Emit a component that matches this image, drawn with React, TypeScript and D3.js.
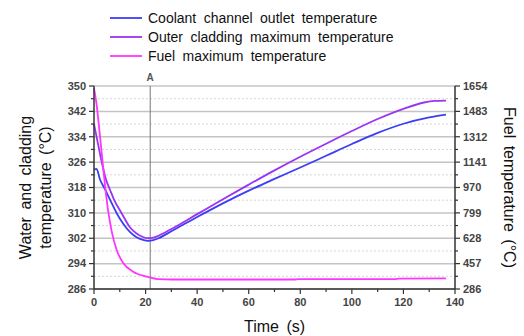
import React from 'react';
import * as d3 from 'd3';

// time (s) and temperatures
const coolantT = [0, 1, 2.3, 4.3, 6.2, 8.8, 11.4, 14, 16.5, 19, 21, 23, 25, 30, 40, 50, 60, 70, 80, 90, 100, 110, 120, 130, 136.5];
const coolantV = [323.6, 323.9, 320.6, 317.4, 314.2, 309.9, 306.5, 303.9, 302.3, 301.5, 301.2, 301.4, 302.0, 304.2, 308.7, 313.0, 317.0, 320.7, 324.3, 328.0, 331.7, 335.2, 338.1, 340.1, 341.0];

const claddingT = [0, 1, 3, 4.7, 6.2, 7.8, 10.7, 14, 16.5, 19, 21, 23, 25, 30, 40, 50, 60, 70, 80, 90, 100, 110, 120, 128, 132, 136.5];
const claddingV = [338.0, 334.0, 326.0, 320.4, 317.3, 314.1, 309.9, 305.4, 303.5, 302.4, 302.0, 302.2, 302.8, 304.9, 309.6, 314.3, 318.9, 323.4, 327.7, 331.8, 335.8, 339.6, 342.8, 344.8, 345.3, 345.4];

const fuelT = [0, 1, 2, 3, 4.3, 5.5, 6.9, 8.8, 11.4, 15.2, 20.4, 25.6, 30, 50, 78, 79, 100, 117, 118, 136.5];
const fuelV = [1640, 1530, 1370, 1200, 980, 810, 671, 549, 459, 403, 370, 352, 350, 350, 350, 352, 353, 353, 356, 357];

const leftTicks = [286, 294, 302, 310, 318, 326, 334, 342, 350];
const rightTicks = [286, 457, 628, 799, 970, 1141, 1312, 1483, 1654];
const xTicks = [0, 20, 40, 60, 80, 100, 120, 140];
const markerT = 21.8;

const series = [
  { name: 'Coolant channel outlet temperature', color: '#3d3df7', t: coolantT, v: coolantV, axis: 'left' },
  { name: 'Outer cladding maximum temperature', color: '#9a33f5', t: claddingT, v: claddingV, axis: 'left' },
  { name: 'Fuel maximum temperature', color: '#ff35ff', t: fuelT, v: fuelV, axis: 'right' },
];

const W = 524;
const H = 336;
const margin = { top: 86, right: 69, bottom: 47, left: 94 };
const font = 'Arial, "Liberation Sans", sans-serif';

export default function App() {
  const x = d3.scaleLinear().domain([0, 140]).range([margin.left, W - margin.right]);
  const yL = d3.scaleLinear().domain([286, 350]).range([H - margin.bottom, margin.top]);
  const yR = d3.scaleLinear().domain([286, 1654]).range([H - margin.bottom, margin.top]);
  const x0 = x(0), x1 = x(140), yb = yL(286), yt = yL(350);

  const minorLeft = d3.range(290, 350, 8);
  const minorX = d3.range(10, 140, 20);
  const minorRight = rightTicks.slice(0, -1).map((d, i) => (d + rightTicks[i + 1]) / 2);

  const paths = series.map((s) => {
    const yy = s.axis === 'left' ? yL : yR;
    const line = d3
      .line<number>()
      .x((_, i) => x(s.t[i]))
      .y((d) => yy(d))
      .curve(d3.curveMonotoneX);
    return line(s.v) as string;
  });

  return (
    <svg width={W} height={H} style={{ position: 'absolute', left: 0, top: 0 }} fontFamily={font}>
      <rect width={W} height={H} fill="#fff" />

      {/* minor dotted grid */}
      {minorLeft.map((d) => (
        <line key={'mg' + d} x1={x0} x2={x1} y1={yL(d)} y2={yL(d)} stroke="#d6d6d6" strokeDasharray="2,2" />
      ))}
      {/* major grid */}
      {leftTicks.map((d) => (
        <line key={'g' + d} x1={x0} x2={x1} y1={yL(d)} y2={yL(d)} stroke="#c4c4c4" strokeWidth={1.5} />
      ))}

      {/* marker A */}
      <line x1={x(markerT)} x2={x(markerT)} y1={yt} y2={yb} stroke="#777" strokeWidth={1} />
      <text x={x(markerT)} y={81} textAnchor="middle" fontSize={10} fontWeight="bold" fill="#555">A</text>

      {/* curves */}
      {series.map((s, i) => (
        <path key={s.name} d={paths[i]} fill="none" stroke={s.color} strokeWidth={1.8} strokeLinejoin="round" />
      ))}

      {/* axes */}
      <line x1={x0} x2={x0} y1={yt} y2={yb} stroke="#333" strokeWidth={1.5} />
      <line x1={x1} x2={x1} y1={yt} y2={yb} stroke="#333" strokeWidth={1.5} />
      <line x1={x0} x2={x1} y1={yb} y2={yb} stroke="#333" strokeWidth={1.5} />

      {leftTicks.map((d) => (
        <g key={'lt' + d}>
          <line x1={x0 - 5} x2={x0} y1={yL(d)} y2={yL(d)} stroke="#333" strokeWidth={1.2} />
          <text x={x0 - 8} y={yL(d)} dy="0.35em" textAnchor="end" fontSize={11} fontWeight="bold" fill="#444">{d}</text>
        </g>
      ))}
      {minorLeft.map((d) => (
        <line key={'lm' + d} x1={x0 - 3} x2={x0} y1={yL(d)} y2={yL(d)} stroke="#333" strokeWidth={1.2} />
      ))}

      {rightTicks.map((d) => (
        <g key={'rt' + d}>
          <line x1={x1} x2={x1 + 5} y1={yR(d)} y2={yR(d)} stroke="#333" strokeWidth={1.2} />
          <text x={x1 + 8} y={yR(d)} dy="0.35em" textAnchor="start" fontSize={11} fontWeight="bold" fill="#444">{d}</text>
        </g>
      ))}
      {minorRight.map((d) => (
        <line key={'rm' + d} x1={x1} x2={x1 + 3} y1={yR(d)} y2={yR(d)} stroke="#333" strokeWidth={1.2} />
      ))}

      {xTicks.map((d) => (
        <g key={'xt' + d}>
          <line x1={x(d)} x2={x(d)} y1={yb} y2={yb + 5} stroke="#333" strokeWidth={1.2} />
          <text x={x(d)} y={yb + 17} textAnchor="middle" fontSize={11} fontWeight="bold" fill="#444">{d}</text>
        </g>
      ))}
      {minorX.map((d) => (
        <line key={'xm' + d} x1={x(d)} x2={x(d)} y1={yb} y2={yb + 3} stroke="#333" strokeWidth={1.2} />
      ))}

      {/* axis titles */}
      <text x={(x0 + x1) / 2} y={332} textAnchor="middle" fontSize={16} wordSpacing={3} fill="#111">Time (s)</text>
      <text transform={`translate(31, ${(yt + yb) / 2}) rotate(-90)`} textAnchor="middle" fontSize={16} wordSpacing={3} fill="#111">Water and cladding</text>
      <text transform={`translate(51, ${(yt + yb) / 2}) rotate(-90)`} textAnchor="middle" fontSize={16} wordSpacing={3} fill="#111">temperature (°C)</text>
      <text transform={`translate(504, ${(yt + yb) / 2}) rotate(90)`} textAnchor="middle" fontSize={16} wordSpacing={3} fill="#111">Fuel temperature (°C)</text>

      {/* legend */}
      {series.map((s, i) => (
        <g key={'lg' + i} transform={`translate(110, ${18 + i * 19})`}>
          <line x1={0} x2={32} y1={0} y2={0} stroke={s.color} strokeWidth={1.8} />
          <text x={38} y={0} dy="0.35em" fontSize={14} wordSpacing={3.5} fill="#111">{s.name}</text>
        </g>
      ))}
    </svg>
  );
}
